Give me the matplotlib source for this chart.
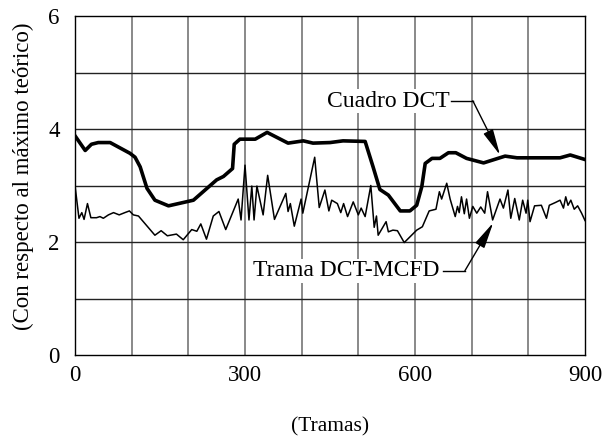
import matplotlib
matplotlib.use("Agg")
import matplotlib.pyplot as plt

plt.rcParams['font.family'] = ['Liberation Serif', 'DejaVu Serif']

# Cuadro DCT (thick line)
cuadro_x = [0, 18, 29, 41, 62, 97, 106, 115, 127, 141, 165, 209, 250, 262, 278, 281, 291, 318,
            339, 376, 403, 420, 450, 473, 512, 526, 538, 553, 574, 591, 603, 612, 618, 630,
            644, 659, 672, 691, 721, 759, 780, 856, 874, 900]
cuadro_y = [3.88, 3.62, 3.73, 3.76, 3.76, 3.57, 3.50, 3.33, 2.95, 2.74, 2.64, 2.74, 3.10, 3.16,
            3.30, 3.73, 3.82, 3.82, 3.94, 3.75, 3.79, 3.75, 3.76, 3.79, 3.78, 3.33, 2.93, 2.83,
            2.55, 2.55, 2.65, 2.98, 3.39, 3.48, 3.48, 3.58, 3.58, 3.48, 3.40, 3.52, 3.49, 3.49,
            3.54, 3.46]

# Trama DCT-MCFD (thin line)
trama_x = [0, 7, 12, 16, 22, 28, 38, 44, 50, 59, 68, 78, 88, 96, 103, 112, 141, 152, 163, 179,
           191, 206, 215, 222, 232, 244, 254, 266, 288, 293, 300, 307, 312, 316, 321, 332, 340,
           352, 372, 376, 380, 387, 399, 402, 423, 431, 441, 448, 453, 463, 469, 474, 481, 491,
           500, 505, 512, 522, 528, 532, 535, 549, 553, 561, 569, 581, 603, 613, 625, 637, 643,
           647, 656, 662, 671, 675, 678, 682, 687, 691, 696, 702, 709, 716, 723, 728, 737, 750,
           756, 764, 769, 776, 784, 790, 796, 799, 803, 811, 823, 832, 837, 848, 856, 862, 866,
           870, 875, 881, 887, 894, 900]
trama_y = [3.0, 2.42, 2.52, 2.40, 2.68, 2.43, 2.43, 2.45, 2.42, 2.48, 2.52, 2.48, 2.52, 2.55,
           2.48, 2.46, 2.12, 2.20, 2.11, 2.14, 2.04, 2.22, 2.19, 2.32, 2.05, 2.46, 2.54, 2.22,
           2.76, 2.39, 3.36, 2.39, 2.99, 2.39, 2.99, 2.48, 3.18, 2.40, 2.86, 2.54, 2.68, 2.28,
           2.76, 2.51, 3.50, 2.61, 2.92, 2.55, 2.74, 2.68, 2.52, 2.68, 2.45, 2.71, 2.48, 2.60,
           2.45, 3.0, 2.26, 2.46, 2.12, 2.36, 2.18, 2.21, 2.20, 1.99, 2.21, 2.27, 2.55, 2.58,
           2.89, 2.76, 3.04, 2.76, 2.45, 2.63, 2.52, 2.80, 2.50, 2.76, 2.42, 2.63, 2.51, 2.62,
           2.51, 2.89, 2.39, 2.76, 2.60, 2.92, 2.42, 2.77, 2.39, 2.74, 2.51, 2.74, 2.36, 2.64,
           2.65, 2.42, 2.65, 2.70, 2.74, 2.60, 2.80, 2.65, 2.74, 2.58, 2.64, 2.51, 2.38]

x_ticks = [0, 300, 600, 900]
y_ticks = [0, 2, 4, 6]
label_cuadro = "Cuadro DCT"
label_trama = "Trama DCT-MCFD"
x_label = "(Tramas)"
y_label = "(Con respecto al máximo teórico)"

fig = plt.figure(figsize=(6.15, 4.41), dpi=100)
ax = fig.add_axes([75/615, 1-355/441, 510/615, 339/441])
ax.set_xlim(0, 900)
ax.set_ylim(0, 6)

for gx in range(100, 900, 100):
    ax.axvline(gx, color='#808080', lw=1.3, zorder=1)
for gy in range(1, 6):
    ax.axhline(gy, color='#222222', lw=1.0, zorder=1)

ax.plot(trama_x, trama_y, color='black', lw=1.1, zorder=3)
ax.plot(cuadro_x, cuadro_y, color='black', lw=2.6, zorder=3, solid_joinstyle='round')

ax.set_xticks(x_ticks)
ax.set_yticks(y_ticks)
ax.tick_params(axis='both', length=0, labelsize=16.5)
ax.tick_params(axis='x', pad=7)
ax.tick_params(axis='y', pad=11)
for s in ax.spines.values():
    s.set_linewidth(1.0)
    s.set_color('black')

bb = dict(facecolor='white', edgecolor='none', pad=1.0)
arrow = dict(arrowstyle='-|>,head_length=0.8,head_width=0.16',
             mutation_scale=20, color='black', lw=1.0, shrinkA=0, shrinkB=0)

# Cuadro DCT annotation
ax.text(662, 4.49, label_cuadro, ha='right', va='center', fontsize=17, bbox=bb, zorder=4)
ax.plot([664, 702], [4.50, 4.50], color='black', lw=1.0, zorder=4)
ax.annotate('', xy=(750, 3.54), xytext=(702, 4.50), arrowprops=arrow, zorder=4)

# Trama DCT-MCFD annotation
ax.text(644, 1.49, label_trama, ha='right', va='center', fontsize=17, bbox=bb, zorder=4)
ax.plot([649, 688], [1.49, 1.49], color='black', lw=1.0, zorder=4)
ax.annotate('', xy=(738, 2.34), xytext=(688, 1.49), arrowprops=arrow, zorder=4)

fig.text(330/615, 1-427/441, x_label, ha='center', va='center', fontsize=15.5)
fig.text(23/615, 1-176/441, y_label, ha='center', va='center', rotation=90, fontsize=16.5)

fig.savefig('out.png', dpi=100)
